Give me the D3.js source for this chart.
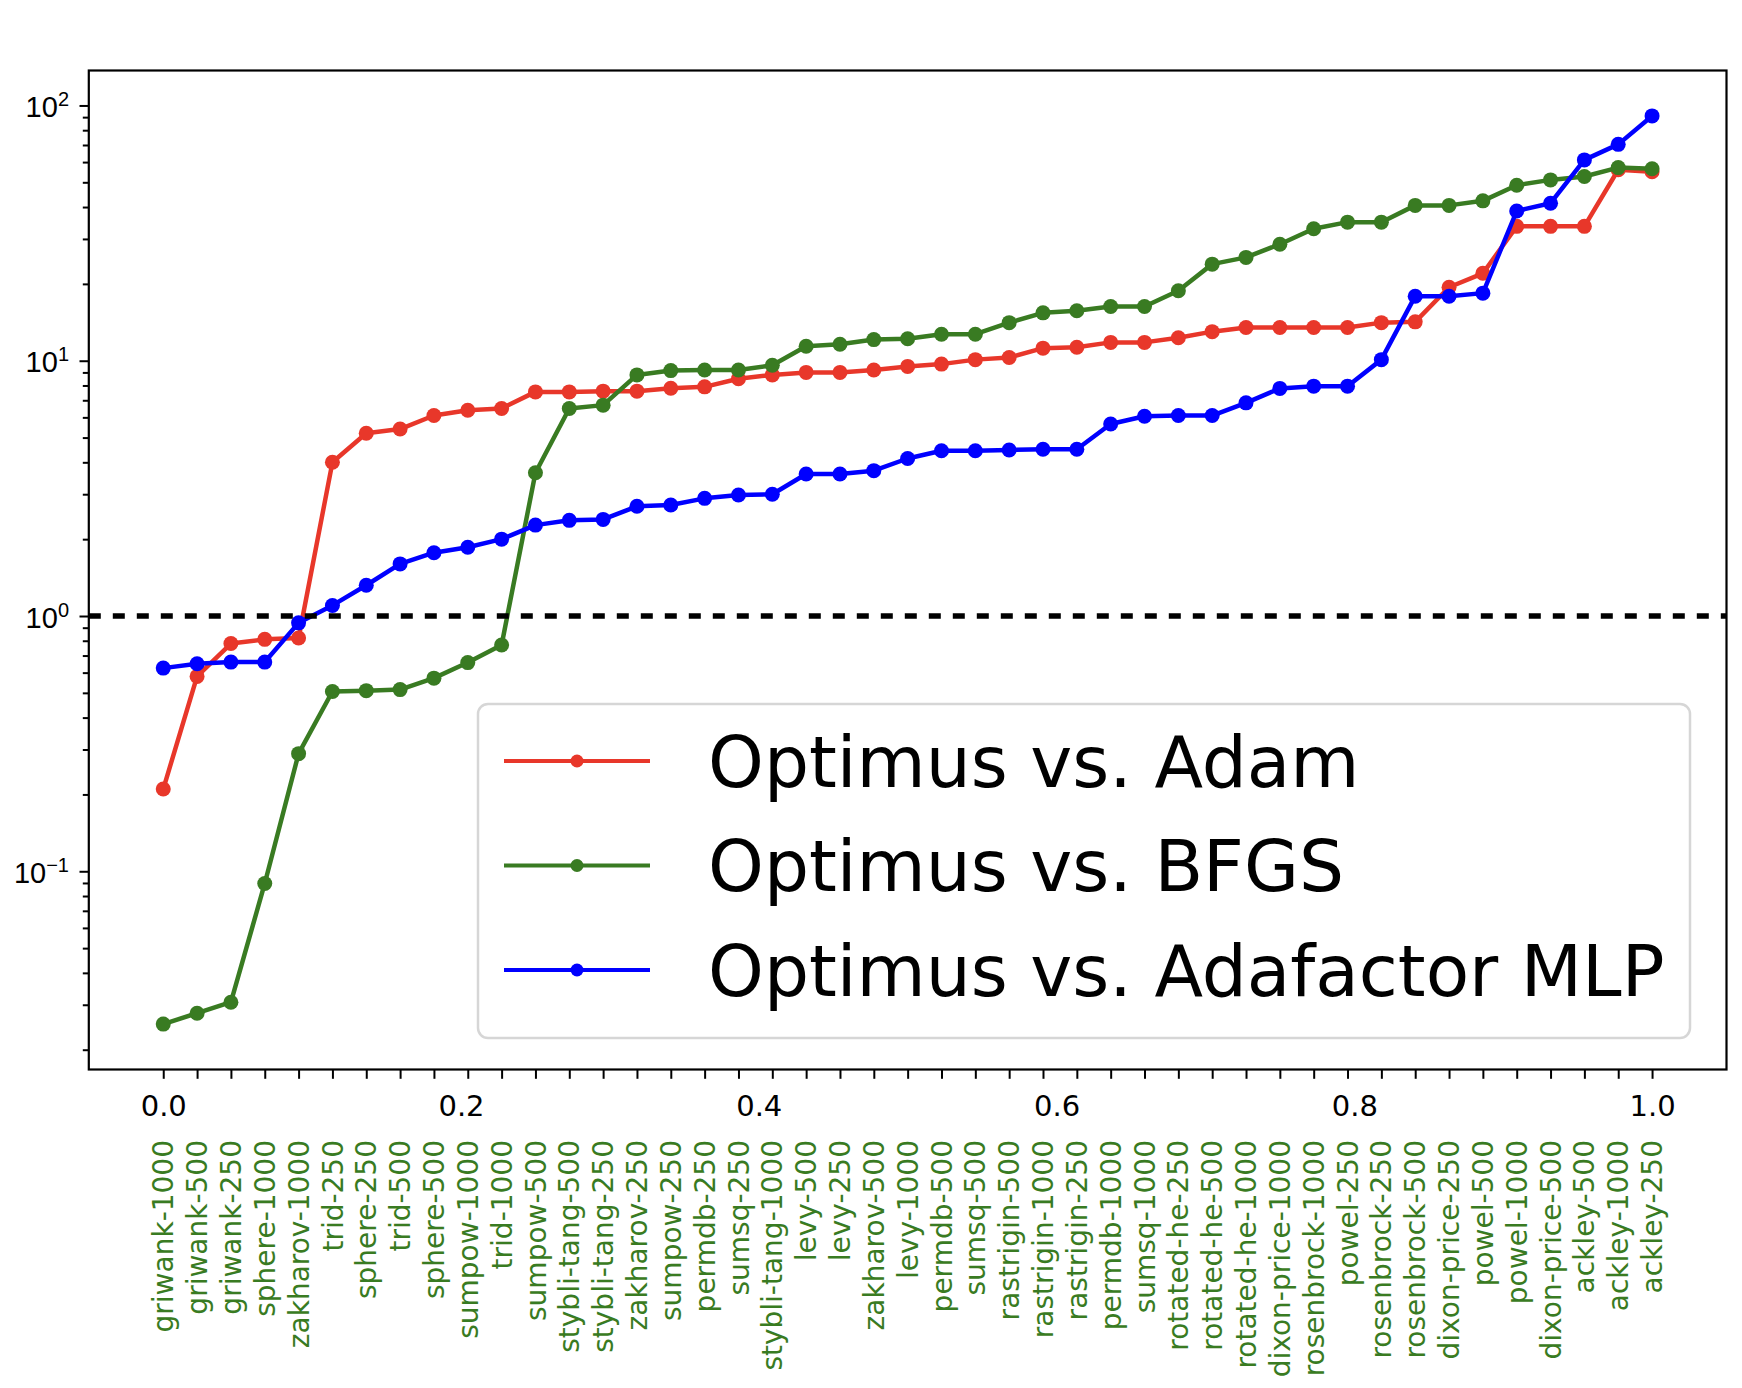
<!DOCTYPE html>
<html>
<head>
<meta charset="utf-8">
<script src="https://cdn.jsdelivr.net/npm/d3@7"></script>
<style>
  html, body { margin: 0; padding: 0; background: #fff; }
  svg { display: block; font-family: "DejaVu Sans", sans-serif; }
</style>
</head>
<body>
<div id="chart"></div>
<script>
// Problems, in the order they appear along the x axis
const problems = [
  "griwank-1000", "griwank-500", "griwank-250", "sphere-1000", "zakharov-1000",
  "trid-250", "sphere-250", "trid-500", "sphere-500", "sumpow-1000",
  "trid-1000", "sumpow-500", "stybli-tang-500", "stybli-tang-250", "zakharov-250",
  "sumpow-250", "permdb-250", "sumsq-250", "stybli-tang-1000", "levy-500",
  "levy-250", "zakharov-500", "levy-1000", "permdb-500", "sumsq-500",
  "rastrigin-500", "rastrigin-1000", "rastrigin-250", "permdb-1000", "sumsq-1000",
  "rotated-he-250", "rotated-he-500", "rotated-he-1000", "dixon-price-1000", "rosenbrock-1000",
  "powel-250", "rosenbrock-250", "rosenbrock-500", "dixon-price-250", "powel-500",
  "powel-1000", "dixon-price-500", "ackley-500", "ackley-1000", "ackley-250"
];

// Speed-up ratios
const adam = [
  0.21, 0.58, 0.78, 0.81, 0.82, 4.0, 5.2, 5.4, 6.1, 6.4,
  6.5, 7.55, 7.55, 7.6, 7.6, 7.8, 7.9, 8.5, 8.8, 9.0,
  9.0, 9.2, 9.5, 9.7, 10.1, 10.3, 11.2, 11.3, 11.8, 11.8,
  12.3, 13.0, 13.5, 13.5, 13.5, 13.5, 14.1, 14.2, 19.4, 22.0,
  33.6, 33.6, 33.6, 56, 55
];
const bfgs = [
  0.0252, 0.0278, 0.0307, 0.0896, 0.289, 0.506, 0.51, 0.515, 0.571, 0.657,
  0.77, 3.64, 6.5, 6.7, 8.8, 9.15, 9.2, 9.2, 9.6, 11.4,
  11.6, 12.1, 12.2, 12.7, 12.7, 14.1, 15.4, 15.7, 16.3, 16.3,
  18.8, 23.9, 25.4, 28.6, 32.9, 34.9, 34.9, 40.6, 40.6, 42.3,
  48.7, 51.1, 52.7, 57.1, 56.5
];
const adafactor = [
  0.625, 0.65, 0.66, 0.66, 0.94, 1.1, 1.32, 1.6, 1.77, 1.86,
  2.0, 2.27, 2.37, 2.39, 2.69, 2.72, 2.89, 2.98, 3.0, 3.6,
  3.6, 3.71, 4.14, 4.44, 4.44, 4.47, 4.5, 4.5, 5.65, 6.06,
  6.1, 6.1, 6.84, 7.79, 7.95, 7.95, 10.1, 17.9, 17.9, 18.4,
  38.6, 41.4, 61.2, 70.4, 91
];

const seriesNames = ["Optimus vs. Adam", "Optimus vs. BFGS", "Optimus vs. Adafactor MLP"];
const seriesColors = ["#e8372a", "#397b22", "#0000ff"];
const labelColor = "#397b22";
const xTickValues = [0, 0.2, 0.4, 0.6, 0.8, 1.0];
const yTickValues = [0.1, 1, 10, 100];
const refValue = 1;

// Dimensions
const width = 1742, height = 1388;
const marge = {haute: 70.5, basse: 318.5, droite: 15.5, gauche: 88.8};
const innerW = width - marge.gauche - marge.droite;
const innerH = height - marge.haute - marge.basse;

const series = [adam, bfgs, adafactor].map((vals, k) => ({
  name: seriesNames[k],
  color: seriesColors[k],
  values: vals.map((v, i) => ({x: i / (problems.length - 1), y: v}))
}));

// Scales (matplotlib style 5% margins, in log space for y)
const x = d3.scaleLinear().domain([-0.05, 1.05]).range([0, innerW]);

const allVals = [].concat(adam, bfgs, adafactor);
const lmin = Math.log10(d3.min(allVals)), lmax = Math.log10(d3.max(allVals));
const pad = (lmax - lmin) * 0.05;
const y = d3.scaleLog()
  .domain([Math.pow(10, lmin - pad), Math.pow(10, lmax + pad)])
  .range([innerH, 0]);

const svg = d3.select("#chart")
  .append("svg")
  .attr("width", width)
  .attr("height", height);

svg.append("rect").attr("width", width).attr("height", height).attr("fill", "#fff");

const g = svg.append("g").attr("transform", `translate(${marge.gauche},${marge.haute})`);

// Minor y ticks
const [d0, d1] = y.domain();
const minorTicks = [];
for (let e = Math.floor(Math.log10(d0)); e <= Math.ceil(Math.log10(d1)); e++) {
  for (let k = 2; k <= 9; k++) {
    const v = k * Math.pow(10, e);
    if (v >= d0 && v <= d1) minorTicks.push(v);
  }
}
g.append("g")
  .call(d3.axisLeft(y).tickValues(minorTicks).tickSize(6).tickSizeOuter(0).tickFormat(""))
  .call(a => a.select(".domain").remove())
  .call(a => a.selectAll(".tick line").attr("stroke", "#000").attr("stroke-width", 2));

// Major y ticks with 10^n labels
const yAxis = g.append("g")
  .call(d3.axisLeft(y).tickValues(yTickValues).tickSize(9.3).tickPadding(10.5).tickSizeOuter(0).tickFormat(""))
  .call(a => a.select(".domain").remove())
  .call(a => a.selectAll(".tick line").attr("stroke", "#000").attr("stroke-width", 2));

yAxis.selectAll(".tick text")
  .attr("font-size", 29)
  .attr("fill", "#000")
  .attr("dy", "0.38em")
  .each(function(d) {
    const t = d3.select(this);
    const ex = Math.round(Math.log10(d));
    t.append("tspan").text("10");
    t.append("tspan")
      .attr("dy", "-0.55em")
      .attr("font-size", 20)
      .text(ex < 0 ? "\u2212" + Math.abs(ex) : String(ex));
  });

// X ticks at every problem
g.append("g")
  .attr("transform", `translate(0,${innerH})`)
  .call(d3.axisBottom(x).tickValues(series[0].values.map(d => d.x)).tickSize(9.3).tickSizeOuter(0).tickFormat(""))
  .call(a => a.select(".domain").remove())
  .call(a => a.selectAll(".tick line").attr("stroke", "#000").attr("stroke-width", 2));

// Numeric x labels
g.append("g")
  .attr("transform", `translate(0,${innerH})`)
  .call(d3.axisBottom(x).tickValues(xTickValues).tickSize(0).tickPadding(26).tickFormat(d3.format(".1f")))
  .call(a => a.select(".domain").remove())
  .call(a => a.selectAll(".tick text").attr("font-size", 29).attr("fill", "#000").attr("font-family", "DejaVu Sans"));

// Problem names, rotated
g.append("g")
  .selectAll("text")
  .data(problems)
  .join("text")
  .attr("transform", (d, i) => `translate(${x(i / (problems.length - 1))},${1140 - marge.haute}) rotate(-90)`)
  .attr("text-anchor", "end")
  .attr("dy", "0.36em")
  .attr("font-size", 28)
  .attr("fill", labelColor)
  .text(d => d);

// Lines + markers
const line = d3.line().x(d => x(d.x)).y(d => y(d.y));

const sg = g.append("g")
  .selectAll("g")
  .data(series)
  .join("g");

sg.append("path")
  .attr("d", d => line(d.values))
  .attr("fill", "none")
  .attr("stroke", d => d.color)
  .attr("stroke-width", 4.5)
  .attr("stroke-linejoin", "round");

sg.selectAll("circle")
  .data(d => d.values.map(v => ({...v, color: d.color})))
  .join("circle")
  .attr("cx", d => x(d.x))
  .attr("cy", d => y(d.y))
  .attr("r", 7.5)
  .attr("fill", d => d.color);

// Reference line at 1
g.append("line")
  .attr("x1", 0).attr("x2", innerW)
  .attr("y1", y(refValue)).attr("y2", y(refValue))
  .attr("stroke", "#000")
  .attr("stroke-width", 5.5)
  .attr("stroke-dasharray", "12,12");

// Frame
g.append("rect")
  .attr("width", innerW)
  .attr("height", innerH)
  .attr("fill", "none")
  .attr("stroke", "#000")
  .attr("stroke-width", 2.2);

// Legend
const leg = svg.append("g").attr("transform", "translate(478,704)");
leg.append("rect")
  .attr("width", 1212)
  .attr("height", 334)
  .attr("rx", 10)
  .attr("fill", "#fff")
  .attr("fill-opacity", 0.8)
  .attr("stroke", "#d6d6d6")
  .attr("stroke-width", 2.5);

const items = leg.selectAll("g.item")
  .data(series)
  .join("g")
  .attr("class", "item")
  .attr("transform", (d, i) => `translate(0,${57 + i * 104.5})`);

items.append("line")
  .attr("x1", 26).attr("x2", 172)
  .attr("stroke", d => d.color)
  .attr("stroke-width", 4);
items.append("circle")
  .attr("cx", 99)
  .attr("r", 6.5)
  .attr("fill", d => d.color);
items.append("text")
  .attr("x", 230)
  .attr("dy", "0.36em")
  .attr("font-size", 71)
  .attr("fill", "#000")
  .text(d => d.name);
</script>
</body>
</html>
